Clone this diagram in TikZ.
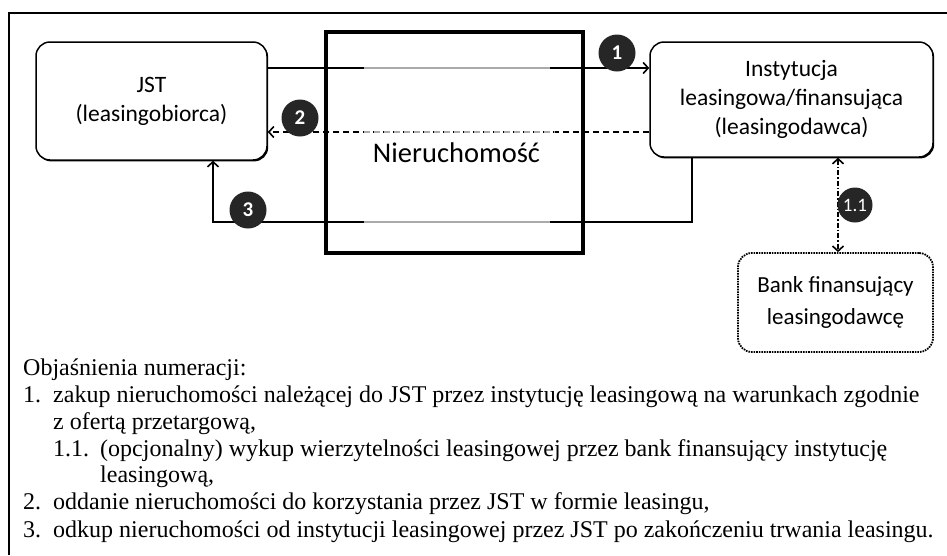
\documentclass[tikz,border=0pt]{standalone}
\usepackage{fontspec}
\setmainfont{Liberation Serif}
\newfontfamily\calib{Carlito}
\usepackage{tikz}
\usetikzlibrary{arrows.meta, positioning, calc, shadows}
\definecolor{mydark}{RGB}{0,0,0}
\definecolor{mybadge}{RGB}{38,38,38}
\definecolor{mygray}{RGB}{170,170,170}
\tikzset{
  entbox/.style={rectangle, draw=mydark, fill=white, align=center,
    rounded corners=14pt, line width=1.5pt, inner sep=0pt,
    font=\calib\fontsize{23.5}{29}\selectfont,
    drop shadow={shadow xshift=1.2pt, shadow yshift=-1.4pt, fill=black, opacity=1}},
  propbox/.style={rectangle, draw=mydark, line width=4.5pt, inner sep=0pt},
  bankbox/.style={rectangle, draw=mydark, fill=white, align=center,
    rounded corners=14pt, line width=1.8pt, inner sep=0pt,
    dash pattern=on 1.6pt off 1pt,
    font=\calib\fontsize{23}{32}\selectfont},
  badge/.style={circle, fill=mybadge, text=white, inner sep=0pt,
    minimum size=37pt, font=\calib\bfseries\fontsize{21}{21}\selectfont},
  arrow/.style={-{Straight Barb[length=5pt, width=11pt]}, line width=1.6pt, color=mydark},
  dasharrow/.style={arrow, dash pattern=on 6pt off 4pt},
  dotarrow/.style={{Straight Barb[length=5pt, width=11pt]}-{Straight Barb[length=5pt, width=11pt]},
    line width=1.6pt, dash pattern=on 5pt off 2pt on 1.5pt off 2pt},
  graybit/.style={line width=1.6pt, color=mygray},
  legtxt/.style={anchor=base west, inner sep=0pt, font=\fontsize{24}{27}\selectfont}
}
\begin{document}
\begin{tikzpicture}[x=1pt, y=-1pt]
  \useasboundingbox (0,0) rectangle (947,555);
  % frame
  \draw[line width=1.6pt] (9,555) -- (9,13) -- (947,13);

  \node[entbox, minimum width=231pt, minimum height=118pt] (jst) at (151.5,101) {JST\\(leasingobiorca)};
  \node[entbox, minimum width=283pt, minimum height=115pt] (inst) at (791.5,99.5) {Instytucja\\leasingowa/finansująca\\(leasingodawca)};
  \node[bankbox, minimum width=195pt, minimum height=99pt] (bank) at (835.5,302.5) {Bank finansujący\\leasingodawcę};
  \node[propbox, minimum width=257pt, minimum height=221pt,
    label={[font=\calib\fontsize{28.5}{28.5}\selectfont, yshift=-10pt, xshift=2pt]center:Nieruchomość}] (nier) at (454.5,142.5) {};

  % Paths
  \coordinate (l1) at ([yshift=33pt]jst.east);
  \coordinate (l2) at ([yshift=-32.5pt]inst.west);
  \coordinate (l3) at ([xshift=-99.5pt]inst.south);
  \coordinate (l11) at ([xshift=46.5pt]inst.south);
  \draw[arrow] (l1) -- (l1 -| inst.west);
  \draw[dasharrow] (l2) -- (l2 -| jst.east);
  \draw[arrow] (l3) -- ++(0,64) coordinate (l3b) -| ([xshift=61.5pt]jst.south);
  \draw[dotarrow] (l11) -- (l11 |- bank.north);

  % segments behind the property
  \draw[graybit] ($(nier.west |- l1)+(40,0)$) -- ($(nier.east |- l1)+(-35,0)$);
  \draw[graybit, dash pattern=on 6pt off 4pt] ($(nier.west |- l2)+(40,0)$) -- ($(nier.east |- l2)+(-30,0)$);
  \draw[graybit] ($(nier.west |- l3b)+(40,0)$) -- ($(nier.east |- l3b)+(-35,0)$);

  % numbers
  \node[badge] (b1) at (617,53) {1};
  \node[badge] (b2) at (300,118) {2};
  \node[badge] (b3) at (248,210) {3};
  \node[badge, minimum size=35pt, font=\calib\fontsize{19}{19}\selectfont] (b11) at (855,205) {1.1};

  % legend
  \node[legtxt] (leg) at (23,375) {Objaśnienia numeracji:};
  \node[legtxt] (leg1n) at (23,402) {1.};
  \node[legtxt] (leg1a) at (53,402) {zakup nieruchomości należącej do JST przez instytucję leasingową na warunkach zgodnie};
  \node[legtxt] (leg1b) at (53,429) {z ofertą przetargową,};
  \node[legtxt] (leg11n) at (53,456) {1.1.};
  \node[legtxt] (leg11a) at (100,456) {(opcjonalny) wykup wierzytelności leasingowej przez bank finansujący instytucję};
  \node[legtxt] (leg11b) at (100,482) {leasingową,};
  \node[legtxt] (leg2n) at (23,509) {2.};
  \node[legtxt] (leg2a) at (53,509) {oddanie nieruchomości do korzystania przez JST w formie leasingu,};
  \node[legtxt] (leg3n) at (23,537) {3.};
  \node[legtxt] (leg3a) at (53,537) {odkup nieruchomości od instytucji leasingowej przez JST po zakończeniu trwania leasingu.};
\end{tikzpicture}
\end{document}
